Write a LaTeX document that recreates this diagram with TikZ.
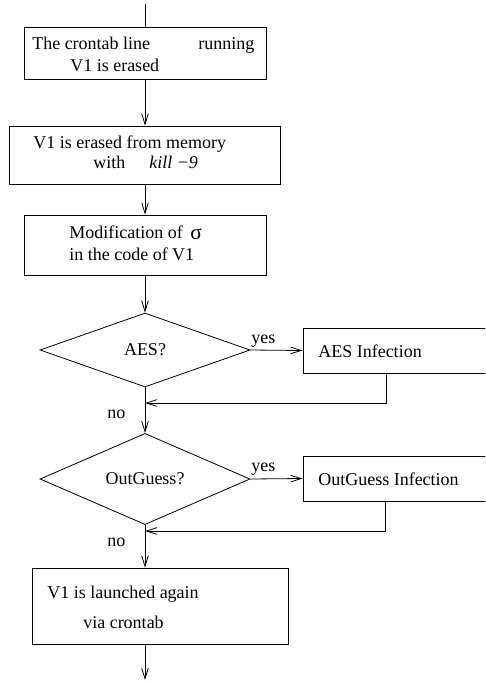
\documentclass[tikz,border=0pt]{standalone}
\usepackage{fontspec}
\setmainfont{Liberation Serif}
\usetikzlibrary{shapes.geometric,arrows.meta}
\begin{document}
\begin{tikzpicture}[x=0.75pt,y=-0.75pt,
  every node/.style={font=\fontsize{13.5}{16}\selectfont},
  box/.style={draw,rectangle,inner sep=0pt,line width=0.6pt},
  dia/.style={draw,diamond,inner sep=0pt,line width=0.6pt,minimum width=157.5pt,minimum height=55.5pt},
  txt/.style={anchor=base west,inner sep=0pt},
  conn/.style={line width=0.6pt,-{Straight Barb[length=8pt,width=5pt]}},
  plain/.style={line width=0.6pt}]
\useasboundingbox (0,0) rectangle (485,681);
\clip (0,0) rectangle (485,681);
\coordinate (start) at (145,4);
\node[box,minimum width=181.5pt,minimum height=39pt] (b1) at (145,53) {};
\node[txt] (t1a) at (32,50) {The crontab line};
\node[txt] (t1b) at (198,50) {running};
\node[txt] (t1c) at (70,72) {V1 is erased};
\node[box,minimum width=203.25pt,minimum height=43.5pt] (b2) at (144.5,155) {};
\node[txt] (t2a) at (33,148) {V1 is erased from memory};
\node[txt] (t2b) at (93,169) {with};
\node[txt] (t2c) at (149,169) {\textit{kill −9}};
\node[box,minimum width=181.5pt,minimum height=45pt] (b3) at (145,245) {};
\node[txt] (t3a) at (69,238) {Modification of};
\node[txt,font=\fontsize{16}{18}\selectfont] (t3b) at (190,239) {σ};
\node[txt] (t3c) at (69,260) {in the code of V1};
\node[dia] (d1) at (145,350) {AES?};
\node[box,minimum width=140.25pt,minimum height=33.75pt] (aes) at (396.5,350.5) {};
\node[txt] (taes) at (318,357) {AES Infection};
\node[txt] (y1) at (251,343) {yes};
\coordinate (j1) at (145,403);
\node[txt] (n1) at (107,418) {no};
\node[dia] (d2) at (145,479) {OutGuess?};
\node[box,minimum width=140.25pt,minimum height=33.75pt] (og) at (396.5,478.5) {};
\node[txt] (tog) at (318,485) {OutGuess Infection};
\node[txt] (y2) at (251,471) {yes};
\coordinate (j2) at (145,531);
\node[txt] (n2) at (107,546) {no};
\node[box,minimum width=192pt,minimum height=57pt] (b4) at (160,606) {};
\node[txt] (t4a) at (47,598) {V1 is launched again};
\node[txt] (t4b) at (83,628) {via crontab};
\coordinate (end) at (145,680);
\draw[plain] (start) -- (b1.north -| start);
\draw[conn] (b1.south -| start) -- (b2.north -| start);
\draw[conn] (b2.south -| start) -- (b3.north -| start);
\draw[conn] (b3.south -| start) -- (d1.north);
\draw[conn] (d1.east) -- (aes.west);
\draw[conn] ([xshift=63pt]aes.south west) |- (j1);
\draw[conn] (d1.south) -- (d2.north);
\draw[conn] (d2.east) -- (og.west);
\draw[conn] ([xshift=62.25pt]og.south west) |- (j2);
\draw[conn] (d2.south) -- (b4.north -| start);
\draw[conn] (b4.south -| start) -- (end);
\end{tikzpicture}
\end{document}
